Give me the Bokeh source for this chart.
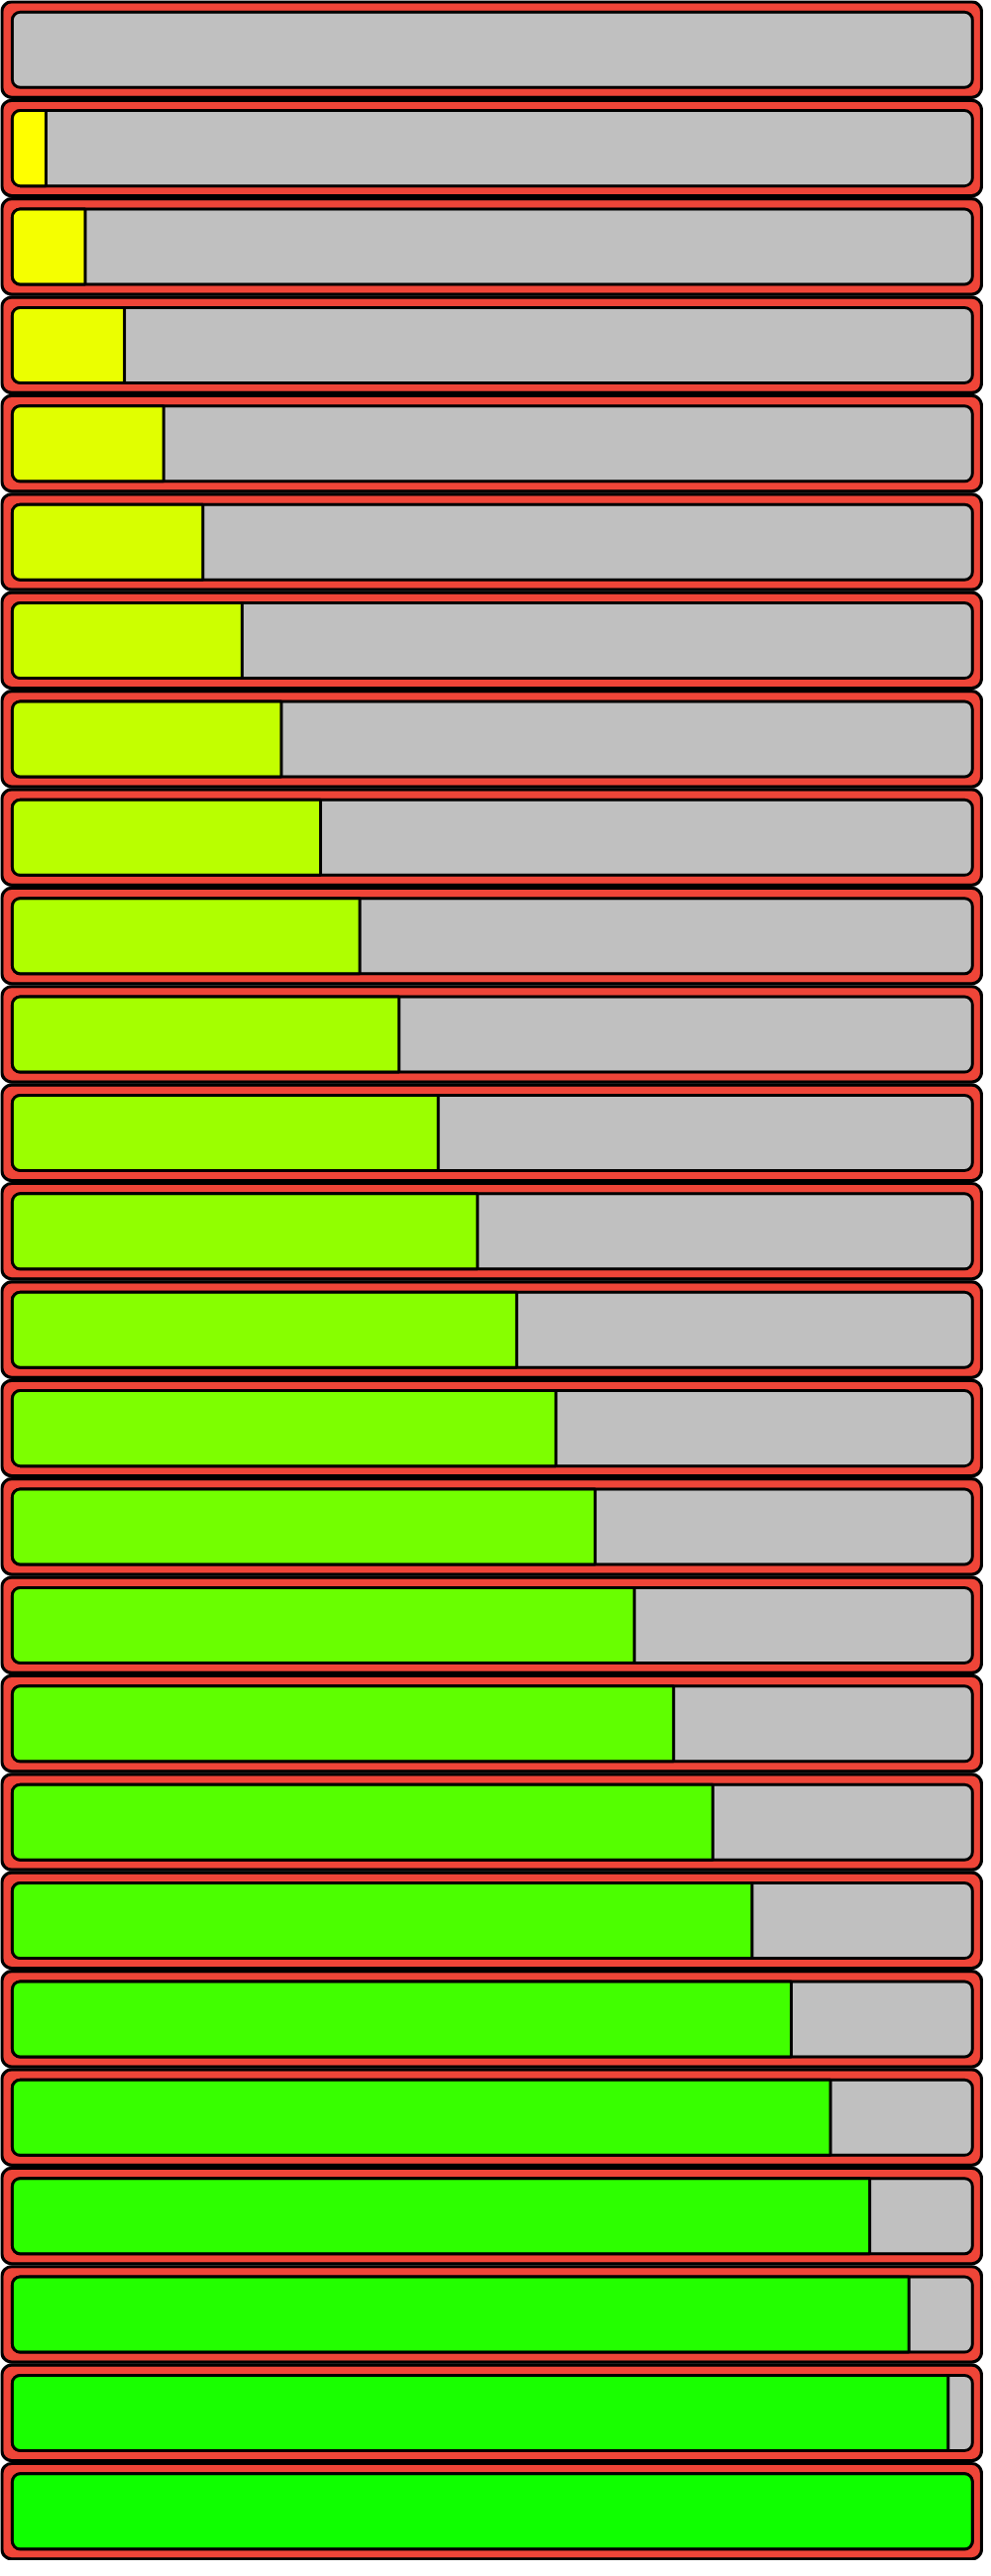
from bokeh.plotting import figure
from bokeh.models import Range1d, ColumnDataSource
from bokeh.embed import file_html
from bokeh.resources import INLINE

# ---- data ----
rows = list(range(26))
values = [0, 4, 8, 12, 16, 20, 24, 28, 32, 36, 40, 44, 48, 52,
          56, 60, 64, 68, 72, 76, 80, 84, 88, 92, 96, 100]
fill_colors = ["#ffff00", "#ffff00", "#f5ff00", "#ebff00", "#e1ff00", "#d7ff00",
               "#cdff00", "#c3ff00", "#b9ff00", "#afff00", "#a5ff00", "#9bff00",
               "#91ff00", "#87ff00", "#7dff00", "#73ff00", "#69ff00", "#5fff00",
               "#55ff00", "#4bff00", "#41ff00", "#37ff00", "#2dff00", "#23ff00",
               "#19ff00", "#0fff00"]

# ---- layout constants (reference pixel space) ----
N = len(rows)
PITCH = 100.0
W = 1000.0
OUT_L, OUT_R = 1.4, 998.0
OUT_T, OUT_B = 1.4, 98.4
IN_L, IN_R = 12.0, 988.7
IN_T, IN_B = 11.8, 88.3
FX0, FS = 6.4, 9.975   # fill right edge = FX0 + value * FS

RED = "#ef4538"
GRAY = "#c0c0c0"

def ytop(r, off):
    return (N - r) * PITCH - off

outer = ColumnDataSource(dict(
    left=[OUT_L] * N, right=[OUT_R] * N,
    top=[ytop(r, OUT_T) for r in rows], bottom=[ytop(r, OUT_B) for r in rows]))
inner = ColumnDataSource(dict(
    left=[IN_L] * N, right=[IN_R] * N,
    top=[ytop(r, IN_T) for r in rows], bottom=[ytop(r, IN_B) for r in rows]))

part = dict(left=[], right=[], top=[], bottom=[], color=[])
full = dict(left=[], right=[], top=[], bottom=[], color=[])
for r, v, c in zip(rows, values, fill_colors):
    right = FX0 + v * FS
    if right <= IN_L:
        continue
    d = part
    if right >= IN_R:
        right = IN_R
        d = full
    d["left"].append(IN_L)
    d["right"].append(right)
    d["top"].append(ytop(r, IN_T))
    d["bottom"].append(ytop(r, IN_B))
    d["color"].append(c)

p = figure(width=992, height=2584, x_range=Range1d(0, W), y_range=Range1d(0, N * PITCH),
           x_axis_type=None, y_axis_type=None, toolbar_location=None,
           output_backend="svg", min_border=0)
p.min_border_left = p.min_border_right = p.min_border_top = p.min_border_bottom = 0
p.outline_line_color = None
p.grid.visible = False
p.background_fill_color = "white"
p.border_fill_color = "white"

p.quad(source=outer, left="left", right="right", top="top", bottom="bottom",
       fill_color=RED, line_color="black", line_width=3.2, border_radius=10)
p.quad(source=inner, left="left", right="right", top="top", bottom="bottom",
       fill_color=GRAY, line_color="black", line_width=3.0, border_radius=8)
p.quad(source=ColumnDataSource(part), left="left", right="right", top="top", bottom="bottom",
       fill_color="color", line_color="black", line_width=3.0, border_radius=(8, 0, 0, 8))
p.quad(source=ColumnDataSource(full), left="left", right="right", top="top", bottom="bottom",
       fill_color="color", line_color="black", line_width=3.0, border_radius=8)

open("out.html", "w").write(file_html(p, INLINE))
